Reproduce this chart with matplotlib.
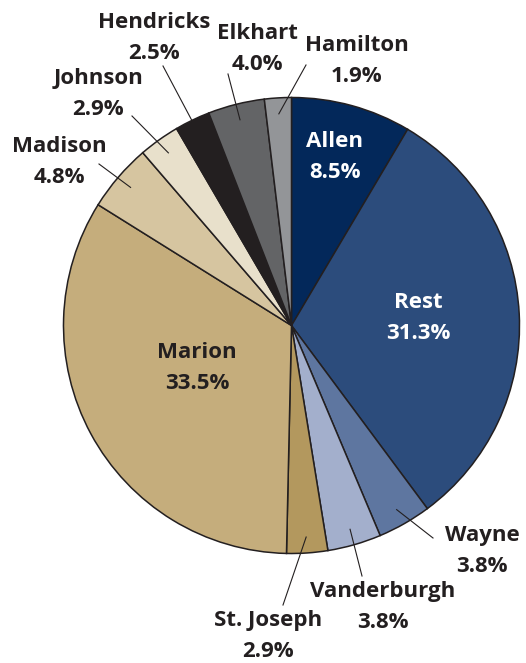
import matplotlib.pyplot as plt
import numpy as np

plt.rcParams['font.family'] = ['Open Sans', 'DejaVu Sans']

counties = ["Allen", "Rest", "Wayne", "Vanderburgh", "St. Joseph", "Marion",
            "Madison", "Johnson", "Hendricks", "Elkhart", "Hamilton"]
shares = [8.5, 31.3, 3.8, 3.8, 2.9, 33.5, 4.8, 2.9, 2.5, 4.0, 1.9]
colors = ["#03285a", "#2c4c7c", "#5e76a0", "#a3afcc", "#b3985e", "#c5ad7c",
          "#d6c5a0", "#e8e0cb", "#231f20", "#636466", "#939598"]

# label centre (pixels from top-left), text colour, leader end point or None
label_pos = {
    "Allen": (335, 157, "white", None),
    "Rest": (418, 318, "white", None),
    "Marion": (197, 368, "#231f20", None),
    "Wayne": (482, 551, "#231f20", (433, 538)),
    "Vanderburgh": (383, 607, "#231f20", (362, 576)),
    "St. Joseph": (268, 636, "#231f20", (283, 605)),
    "Madison": (59, 162, "#231f20", (99, 164)),
    "Johnson": (98, 94, "#231f20", (132, 116)),
    "Hendricks": (154, 38, "#231f20", (163, 66)),
    "Elkhart": (257, 49, "#231f20", (228, 74)),
    "Hamilton": (357, 61, "#231f20", (306, 65)),
}

W, H = 526, 663
fig = plt.figure(figsize=(W / 100, H / 100), dpi=100)
ax = fig.add_axes([0, 0, 1, 1])

cx, cy, R = 291.5, H - 325.5, 228
wedges, _ = ax.pie(shares, colors=colors, startangle=90, counterclock=False,
                   center=(cx, cy), radius=R, frame=True,
                   wedgeprops=dict(edgecolor="#231f20", linewidth=1.1))
ax.set_xlim(0, W)
ax.set_ylim(0, H)
ax.axis("off")

for w, name, val in zip(wedges, counties, shares):
    x, y, col, lead = label_pos[name]
    ax.text(x, H - y, f"{name}\n{val:.1f}%", ha="center", va="center",
            color=col, fontsize=16, fontweight="bold", linespacing=1.65)
    if lead is not None:
        mid = np.deg2rad((w.theta1 + w.theta2) / 2)
        sx = cx + 0.93 * R * np.cos(mid)
        sy = cy + 0.93 * R * np.sin(mid)
        ax.plot([sx, lead[0]], [sy, H - lead[1]], color="#231f20", lw=0.8)

fig.savefig("out.png", dpi=100)
